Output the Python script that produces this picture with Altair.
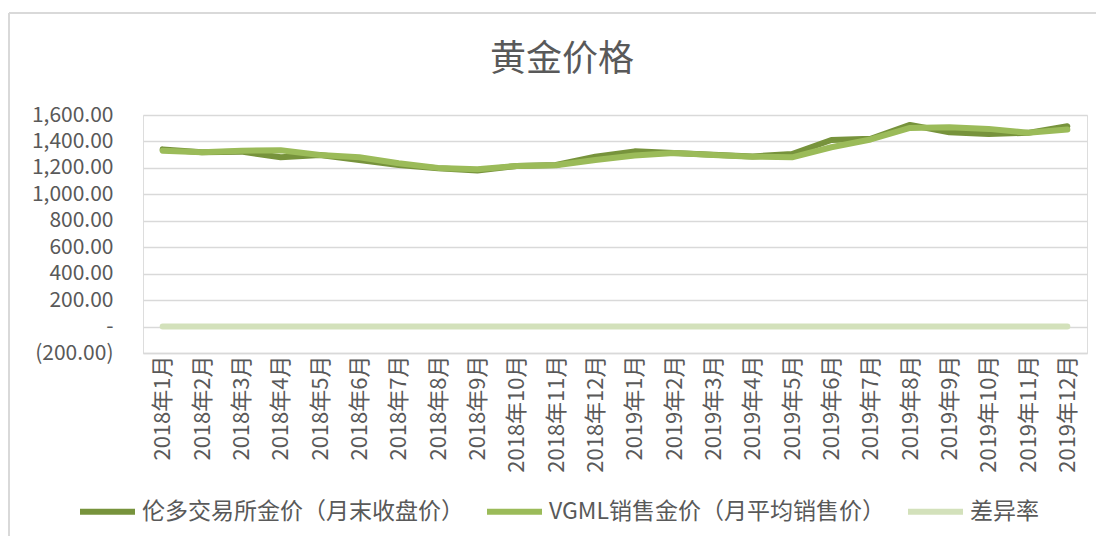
import altair as alt
import pandas as pd

months = ["2018年1月", "2018年2月", "2018年3月", "2018年4月", "2018年5月", "2018年6月",
          "2018年7月", "2018年8月", "2018年9月", "2018年10月", "2018年11月", "2018年12月",
          "2019年1月", "2019年2月", "2019年3月", "2019年4月", "2019年5月", "2019年6月",
          "2019年7月", "2019年8月", "2019年9月", "2019年10月", "2019年11月", "2019年12月"]

series_names = ["伦多交易所金价（月末收盘价）", "VGML销售金价（月平均销售价）", "差异率"]

london = [1340, 1318, 1323, 1280, 1298, 1260, 1222, 1197, 1180, 1215, 1222, 1285,
          1325, 1313, 1300, 1287, 1305, 1411, 1420, 1525, 1469, 1457, 1465, 1515]
vgml = [1330, 1318, 1330, 1333, 1298, 1280, 1235, 1200, 1190, 1215, 1220, 1260,
        1293, 1313, 1298, 1285, 1280, 1356, 1415, 1502, 1507, 1495, 1465, 1490]
diff_rate = [0.01, 0.00, -0.01, -0.04, 0.00, -0.02, -0.01, 0.00, -0.01, 0.00, 0.00, 0.02,
             0.02, 0.00, 0.00, 0.00, 0.02, 0.04, 0.00, 0.02, -0.02, -0.03, 0.00, 0.02]

colors = ["#77933C", "#9BBB59", "#D3E1BB"]
title_text = "黄金价格"

rows = []
for name, vals in zip(series_names, [london, vgml, diff_rate]):
    for i, (m, v) in enumerate(zip(months, vals)):
        rows.append({"月份": m, "序": i, "系列": name, "值": v})
df = pd.DataFrame(rows)

FONT = "Noto Sans CJK SC"
GRAY = "#595959"
W, H = 944, 238

y_label_expr = ("datum.value == 0 ? '-' : (datum.value < 0 ? '(' + format(-datum.value, ',.2f') + ')' "
                ": format(datum.value, ',.2f'))")

lines = alt.Chart(df).mark_line(strokeWidth=6, strokeCap="round", strokeJoin="round").encode(
    x=alt.X("月份:N", sort=months,
            scale=alt.Scale(type="point", padding=0.5),
            axis=alt.Axis(title=None, labelAngle=270, labelFontSize=22, labelFont=FONT,
                          labelColor=GRAY, ticks=False, labelPadding=2, domain=True,
                          domainColor="#D9D9D9", domainWidth=1.5, grid=False)),
    y=alt.Y("值:Q", scale=alt.Scale(domain=[-200, 1600], nice=False, zero=False),
            axis=alt.Axis(title=None, values=list(range(-200, 1601, 200)), labelExpr=y_label_expr,
                          labelFontSize=21, labelFont=FONT, labelColor=GRAY, ticks=False,
                          labelPadding=30, domain=False, grid=True, gridColor="#D9D9D9",
                          gridWidth=1.5)),
    color=alt.Color("系列:N", sort=series_names,
                    scale=alt.Scale(domain=series_names, range=colors),
                    legend=alt.Legend(title=None, orient="none", direction="horizontal",
                                      legendX=-66, legendY=366, symbolType="stroke",
                                      symbolSize=3025, symbolStrokeWidth=6,
                                      labelFontSize=23, labelFont=FONT, labelColor=GRAY,
                                      labelOffset=4, columnPadding=11, padding=0,
                                      labelLimit=500)),
    order=alt.Order("序:Q"),
)

title = alt.Chart(pd.DataFrame({"t": [title_text]})).mark_text(
    fontSize=36, font=FONT, color=GRAY, align="center", baseline="middle"
).encode(text="t:N", x=alt.value(419), y=alt.value(-55))

border_left = alt.Chart(pd.DataFrame({"a": [0]})).mark_rule(color="#D9D9D9", strokeWidth=2).encode(
    x=alt.value(-134), y=alt.value(-102), y2=alt.value(H + 183))
border_top = alt.Chart(pd.DataFrame({"a": [0]})).mark_rule(color="#D9D9D9", strokeWidth=2).encode(
    x=alt.value(-134), x2=alt.value(W + 9), y=alt.value(-102))

chart = alt.layer(lines, title, border_left, border_top).properties(
    width=W, height=H,
    autosize=alt.AutoSizeParams(type="none"),
    padding={"left": 135, "top": 107, "right": 9, "bottom": 183},
).configure_view(stroke=None).configure(background="white")

chart.save("out.html", embed_options={"renderer": "svg", "actions": False})
